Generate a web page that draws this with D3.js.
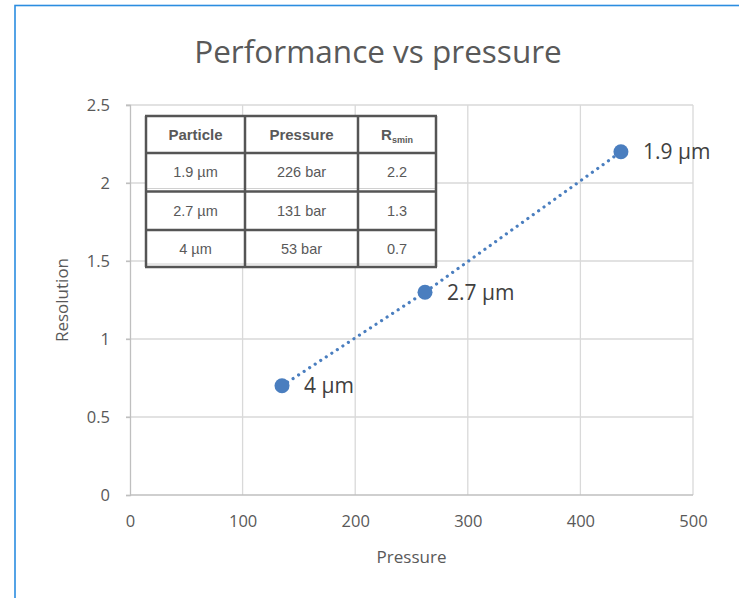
<!DOCTYPE html>
<html>
<head>
<meta charset="utf-8">
<script src="https://cdn.jsdelivr.net/npm/d3@7"></script>
<style>
  body { margin: 0; background: #fff; }
  svg { display: block; }
</style>
</head>
<body>
<div id="chart"></div>
<script>
// scatter series: pressure (x) vs resolution (y)
const particles = ['4 µm', '2.7 µm', '1.9 µm'];
const pressures = [135, 262, 436];
const resolutions = [0.7, 1.3, 2.2];

const xTicks = [0, 100, 200, 300, 400, 500];
const yTicks = [0, 0.5, 1, 1.5, 2, 2.5];

// inset table
const tableHeader = ['Particle', 'Pressure', 'R'];
const tableParticle = ['1.9 µm', '2.7 µm', '4 µm'];
const tablePressure = ['226 bar', '131 bar', '53 bar'];
const tableRsmin = ['2.2', '1.3', '0.7'];

const width = 739, height = 598;
const margin = { top: 105, right: 46, bottom: 103, left: 130 };
const font = '"Open Sans", sans-serif';
const textColor = '#595959';
const blue = '#4a7ebf';

const svg = d3.select('#chart').append('svg')
  .attr('width', width)
  .attr('height', height);

// chart frame (runs off the right / bottom edge)
svg.append('rect')
  .attr('x', 15).attr('y', 5.5)
  .attr('width', 760).attr('height', 620)
  .attr('fill', 'none')
  .attr('stroke', '#2b8de0')
  .attr('stroke-width', 1.6);

const x = d3.scaleLinear().domain([0, 500]).range([margin.left, width - margin.right]);
const y = d3.scaleLinear().domain([0, 2.5]).range([height - margin.bottom, margin.top]);

// gridlines
svg.append('g')
  .selectAll('line.v')
  .data(xTicks.slice(1))
  .enter().append('line')
  .attr('x1', d => x(d)).attr('x2', d => x(d))
  .attr('y1', y(0)).attr('y2', y(2.5))
  .attr('stroke', '#d9d9d9').attr('stroke-width', 1.3);

svg.append('g')
  .selectAll('line.h')
  .data(yTicks.slice(1))
  .enter().append('line')
  .attr('x1', x(0) - 4).attr('x2', x(500))
  .attr('y1', d => y(d)).attr('y2', d => y(d))
  .attr('stroke', '#d9d9d9').attr('stroke-width', 1.3);

// axes
const xAxis = svg.append('g')
  .attr('transform', `translate(0,${y(0)})`)
  .call(d3.axisBottom(x).tickValues(xTicks).tickSize(0).tickPadding(20).tickFormat(d3.format('d')));
const yAxis = svg.append('g')
  .attr('transform', `translate(${x(0)},0)`)
  .call(d3.axisLeft(y).tickValues(yTicks).tickSize(4).tickPadding(16).tickFormat(d => d));

[xAxis, yAxis].forEach(a => {
  a.select('.domain').attr('stroke', '#bfbfbf').attr('stroke-width', 1.3);
  a.selectAll('.tick line').attr('stroke', '#bfbfbf').attr('stroke-width', 1.3);
  a.selectAll('.tick text')
    .attr('fill', textColor)
    .style('font-family', font)
    .style('font-size', '16.5px');
});
xAxis.select('.domain').attr('d', `M${x(0)},0H${x(500)}`);

// titles
svg.append('text')
  .attr('x', 378).attr('y', 63)
  .attr('text-anchor', 'middle')
  .attr('fill', textColor)
  .style('font-family', font)
  .style('font-size', '31.5px')
  .text('Performance vs pressure');

svg.append('text')
  .attr('x', x(250)).attr('y', 563)
  .attr('text-anchor', 'middle')
  .attr('fill', textColor)
  .style('font-family', font)
  .style('font-size', '17px')
  .text('Pressure');

svg.append('text')
  .attr('transform', `translate(68,${(y(0) + y(2.5)) / 2}) rotate(-90)`)
  .attr('text-anchor', 'middle')
  .attr('fill', textColor)
  .style('font-family', font)
  .style('font-size', '17px')
  .text('Resolution');

// series
const points = pressures.map((p, i) => ({ x: p, y: resolutions[i], label: particles[i] }));

svg.append('path')
  .datum(points)
  .attr('fill', 'none')
  .attr('stroke', blue)
  .attr('stroke-width', 3.2)
  .attr('stroke-linecap', 'round')
  .attr('stroke-dasharray', '0.01 6.6')
  .attr('d', d3.line().x(d => x(d.x)).y(d => y(d.y)));

svg.selectAll('circle.pt')
  .data(points)
  .enter().append('circle')
  .attr('cx', d => x(d.x))
  .attr('cy', d => y(d.y))
  .attr('r', 7.5)
  .attr('fill', blue);

svg.selectAll('text.pt')
  .data(points)
  .enter().append('text')
  .attr('x', d => x(d.x) + 22)
  .attr('y', d => y(d.y) + 7.5)
  .attr('fill', '#404040')
  .style('font-family', font)
  .style('font-size', '21px')
  .text(d => d.label);

// inset table
const colX = [146, 245, 358, 436];
const rowY = [116, 153, 191.5, 230, 267];
const tbl = svg.append('g');
tbl.append('rect')
  .attr('x', colX[0]).attr('y', rowY[0])
  .attr('width', colX[3] - colX[0]).attr('height', rowY[4] - rowY[0])
  .attr('fill', '#fff');

const rows = [tableHeader].concat(tableParticle.map((p, i) => [p, tablePressure[i], tableRsmin[i]]));
rows.forEach((r, ri) => {
  r.forEach((c, ci) => {
    const t = tbl.append('text')
      .attr('x', (colX[ci] + colX[ci + 1]) / 2)
      .attr('y', (rowY[ri] + rowY[ri + 1]) / 2 + 5)
      .attr('text-anchor', 'middle')
      .attr('fill', textColor)
      .style('font-family', '"Liberation Sans", Arial, sans-serif')
      .style('font-size', ri === 0 ? '15px' : '14.5px')
      .style('font-weight', ri === 0 ? 'bold' : 'normal')
      .text(c);
    if (ri === 0 && ci === 2) {
      t.append('tspan')
        .attr('dy', 3)
        .style('font-size', '9px')
        .text('smin');
    }
  });
});

// light separator shadows under body rows
[rowY[2], rowY[4]].forEach(yy => {
  tbl.append('line')
    .attr('x1', colX[0]).attr('x2', colX[3])
    .attr('y1', yy - 3).attr('y2', yy - 3)
    .attr('stroke', '#d0d0d0').attr('stroke-width', 1);
});

rowY.forEach(yy => {
  tbl.append('line')
    .attr('x1', colX[0] - 1).attr('x2', colX[3] + 1)
    .attr('y1', yy).attr('y2', yy)
    .attr('stroke', '#555').attr('stroke-width', 2.5);
});
colX.forEach(xx => {
  tbl.append('line')
    .attr('x1', xx).attr('x2', xx)
    .attr('y1', rowY[0]).attr('y2', rowY[4])
    .attr('stroke', '#555').attr('stroke-width', 2.5);
});
</script>
</body>
</html>
